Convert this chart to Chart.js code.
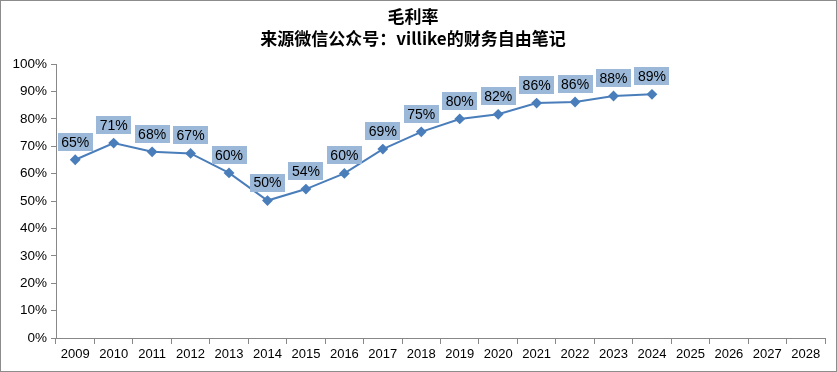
<!DOCTYPE html>
<html lang="zh">
<head>
    <meta charset="UTF-8">
    <title>毛利率</title>
    <script src="https://cdn.jsdelivr.net/npm/chart.js"></script>
    <style>
        html, body { margin: 0; padding: 0; background: #fff; }
        .frame {
            width: 837px; height: 372px; box-sizing: border-box;
            border: 1px solid #8c8c8c; background: #fff; position: relative;
        }
        .frame canvas { display: block; }
    </style>
</head>
<body>
    <div class="frame">
        <canvas id="marginChart" width="835" height="370"></canvas>
    </div>

    <script>
        const years = ['2009', '2010', '2011', '2012', '2013', '2014', '2015', '2016', '2017', '2018',
                       '2019', '2020', '2021', '2022', '2023', '2024', '2025', '2026', '2027', '2028'];
        // gross margin, fraction (2009 - 2024)
        const grossMargin = [0.651, 0.712, 0.68, 0.674, 0.603, 0.502, 0.544, 0.601, 0.69, 0.753,
                             0.80, 0.817, 0.858, 0.862, 0.884, 0.89];
        const titleLines = ['毛利率', '来源微信公众号：villike的财务自由笔记'];

        const FONT = '"Liberation Sans", Arial, Helvetica, sans-serif';
        const lineColor = '#4a7ebb';
        const labelBg = '#9bb8d9';

        // Draw the value labels in boxes above each point
        const boxLabels = {
            id: 'boxLabels',
            afterDatasetsDraw(chart) {
                const ctx = chart.ctx;
                const meta = chart.getDatasetMeta(0);
                ctx.save();
                ctx.font = '14px ' + FONT;
                ctx.textAlign = 'center';
                ctx.textBaseline = 'middle';
                meta.data.forEach((pt, i) => {
                    const text = Math.round(grossMargin[i] * 100) + '%';
                    const w = ctx.measureText(text).width + 7;
                    const h = 18;
                    const bottom = pt.y - 9;
                    ctx.fillStyle = labelBg;
                    ctx.fillRect(Math.round(pt.x - w / 2), Math.round(bottom - h), Math.round(w), h);
                    ctx.fillStyle = '#000';
                    ctx.fillText(text, pt.x, bottom - h / 2 + 1);
                });
                ctx.restore();
            }
        };

        new Chart(document.getElementById('marginChart'), {
            type: 'line',
            data: {
                labels: years,
                datasets: [{
                    data: grossMargin,
                    borderColor: lineColor,
                    backgroundColor: lineColor,
                    borderWidth: 2,
                    pointStyle: 'rectRot',
                    pointRadius: 4,
                    pointHoverRadius: 4,
                    tension: 0,
                    fill: false
                }]
            },
            options: {
                responsive: false,
                animation: false,
                layout: { padding: { left: 0, right: 11, top: 0, bottom: 0 } },
                plugins: {
                    legend: { display: false },
                    tooltip: { enabled: false },
                    title: {
                        display: true,
                        text: titleLines,
                        color: '#000',
                        font: { family: '"Noto Sans CJK SC", ' + FONT, size: 17, weight: 'bold', lineHeight: 1.3 },
                        padding: { top: 4, bottom: 15 }
                    }
                },
                scales: {
                    x: {
                        offset: true,
                        grid: {
                            offset: true,
                            drawOnChartArea: false,
                            color: '#888',
                            tickLength: 6
                        },
                        border: { color: '#888', width: 1 },
                        ticks: {
                            color: '#000',
                            font: { family: FONT, size: 13 },
                            maxRotation: 0,
                            autoSkip: false,
                            padding: 3
                        },
                        afterFit(scale) { scale.height = 33; }
                    },
                    y: {
                        min: 0,
                        max: 1,
                        grid: {
                            drawOnChartArea: false,
                            color: '#888',
                            tickLength: 5
                        },
                        border: { color: '#888', width: 1 },
                        ticks: {
                            stepSize: 0.1,
                            color: '#000',
                            font: { family: FONT, size: 13.5 },
                            padding: 4,
                            callback: v => Math.round(v * 100) + '%'
                        },
                        afterFit(scale) { scale.width = 55; }
                    }
                }
            },
            plugins: [boxLabels]
        });
    </script>
</body>
</html>
